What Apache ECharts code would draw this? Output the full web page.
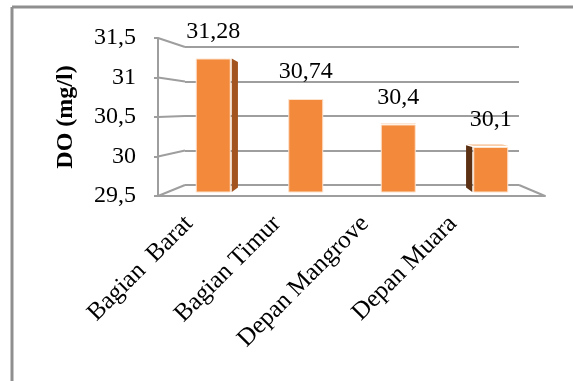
<!DOCTYPE html>
<html>
<head>
<meta charset="utf-8">
<script src="https://cdn.jsdelivr.net/npm/echarts@6/dist/echarts.min.js"></script>
<style>
html,body{margin:0;padding:0;background:#fff;}
#c{width:573px;height:381px;}
</style>
</head>
<body>
<div id="c"></div>
<script>
const categories = ['Bagian  Barat', 'Bagian Timur', 'Depan Mangrove', 'Depan Muara'];
const doValues = [31.28, 30.74, 30.4, 30.1];
const yTicks = [29.5, 30, 30.5, 31, 31.5];
const yMin = 29.5, yMax = 31.5, yStep = 0.5;
const yTitle = 'DO (mg/l)';

const FONT = '"Liberation Serif", "Times New Roman", serif';
const GRID = '#9E9E9E';
const fmt = v => String(v).replace('.', ',');

const chart = echarts.init(document.getElementById('c'), null, {renderer: 'canvas'});

const hiddenVal = (gi) => ({type: 'value', gridIndex: gi, min: 0, max: 1, show: false});
const baseY = (gi) => ({type: 'value', gridIndex: gi, min: yMin, max: yMax, interval: yStep,
  axisLine: {show: false}, axisTick: {show: false}, axisLabel: {show: false}, splitLine: {show: false}});

const option = {
  backgroundColor: '#fff',
  animation: false,
  grid: [
    {left: 158, width: 387, top: 38, height: 158},   // front plane
    {left: 185, width: 334, top: 47, height: 138},   // back wall
    {left: 167, width: 370, top: 42, height: 150},   // bars plane
    {left: 145, width: 352, top: 38, height: 158}    // category labels
  ],
  xAxis: [
    {type: 'value', gridIndex: 0, min: 0, max: 1,
      axisLine: {show: true, onZero: false, lineStyle: {color: GRID, width: 2}},
      axisTick: {show: false}, axisLabel: {show: false}, splitLine: {show: false}},
    hiddenVal(1),
    {type: 'category', gridIndex: 2, data: categories, show: false},
    {type: 'category', gridIndex: 3, data: categories,
      axisLine: {show: false}, axisTick: {show: false},
      axisLabel: {interval: 0, rotate: 45, margin: 24, fontSize: 25, fontFamily: FONT, color: '#000'}}
  ],
  yAxis: [
    Object.assign(baseY(0), {
      axisLine: {show: true, lineStyle: {color: GRID, width: 2}},
      axisTick: {show: true, length: 4, lineStyle: {color: GRID, width: 2}},
      axisLabel: {show: true, margin: 22, fontSize: 24, fontFamily: FONT, color: '#000', formatter: fmt},
      name: yTitle, nameLocation: 'middle', nameGap: 80, nameRotate: 90,
      nameTextStyle: {fontSize: 24, fontWeight: 'bold', fontFamily: FONT, color: '#000'}
    }),
    Object.assign(baseY(1), {splitLine: {show: true, lineStyle: {color: GRID, width: 2}}}),
    baseY(2),
    Object.assign(baseY(3), {show: false})
  ],
  series: [
    {
      type: 'custom', xAxisIndex: 2, yAxisIndex: 2, z: 2,
      data: doValues.map((v, i) => [i, v]),
      renderItem: function (params, api) {
        const cs = params.coordSys;
        const top = api.coord([api.value(0), api.value(1)]);
        const bot = api.coord([api.value(0), yMin]);
        const half = 17.5;
        const cx = top[0];
        const eyeX = cs.x + cs.width / 2, eyeY = cs.y + cs.height / 2;
        const dx = cx - eyeX;
        const shift = -Math.sign(dx) * Math.max(0, Math.abs(dx) - 70) * 0.09;
        const k = 0.06;
        const ty = top[1], by = bot[1];
        const tyB = ty + (eyeY - ty) * k, byB = by + (eyeY - by) * k;
        const children = [];
        if (shift !== 0) {
          const x0 = shift > 0 ? cx + half + 1 : cx - half - 1;
          children.push({type: 'polygon', shape: {points: [[x0, ty], [x0 + shift, tyB], [x0 + shift, byB], [x0, by]]},
            style: {fill: shift > 0 ? '#A3541E' : '#5C3012'}});
        }
        if (ty > eyeY + 5) {
          children.push({type: 'polygon', shape: {points: [[cx - half, ty - 1], [cx + half, ty - 1], [cx + half + shift, tyB - 1], [cx - half + shift, tyB - 1]]},
            style: {fill: '#F9CDA8'}});
        }
        return {type: 'group', children: children};
      }
    },
    {
      type: 'bar', xAxisIndex: 2, yAxisIndex: 2, z: 3,
      data: doValues, barWidth: 35,
      itemStyle: {color: '#F3893B', borderColor: '#FDE2CC', borderWidth: 1},
      label: {show: true, position: 'top', distance: 15, formatter: p => fmt(p.value),
        fontSize: 24, fontFamily: FONT, color: '#000'}
    }
  ]
};
chart.setOption(option);

// 3D connectors between the front axis plane and the back wall, computed through the axes
const g = [];
yTicks.forEach(v => {
  const f = chart.convertToPixel({gridIndex: 0}, [0, v]);
  const b = chart.convertToPixel({gridIndex: 1}, [0, v]);
  g.push({type: 'line', z: 1, shape: {x1: f[0], y1: f[1], x2: b[0], y2: b[1]}, style: {stroke: GRID, lineWidth: 2}});
});
{
  const f = chart.convertToPixel({gridIndex: 0}, [1, yMin]);
  const b = chart.convertToPixel({gridIndex: 1}, [1, yMin]);
  g.push({type: 'line', z: 1, shape: {x1: f[0], y1: f[1], x2: b[0], y2: b[1]}, style: {stroke: GRID, lineWidth: 2}});
}
// outer frame
g.push({type: 'line', z: 1, shape: {x1: 12, y1: 7, x2: 573, y2: 7}, style: {stroke: '#8F8F8F', lineWidth: 3}});
g.push({type: 'line', z: 1, shape: {x1: 12, y1: 7, x2: 12, y2: 381}, style: {stroke: '#8F8F8F', lineWidth: 3}});
chart.setOption({graphic: g});
</script>
</body>
</html>
